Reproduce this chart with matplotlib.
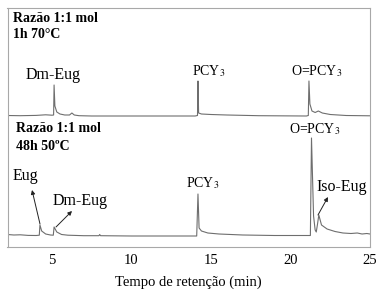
import matplotlib
matplotlib.use("Agg")
import matplotlib.pyplot as plt

plt.rcParams['font.family'] = ['Liberation Serif', 'DejaVu Serif']
plt.rcParams['mathtext.fontset'] = 'stix'

# Top trace: 1:1 mol, 1h 70°C (retention time, relative intensity)
t_top = [2.2, 3.0, 4.0, 4.6, 5.0, 5.10, 5.13, 5.18, 5.3, 5.5, 5.8, 6.1, 6.25, 6.4, 6.7, 7.5,
         10.0, 14.0, 14.15, 14.18, 14.22, 14.4, 15.0, 16.0, 18.0, 21.0, 21.12, 21.16, 21.22,
         21.35, 21.55, 21.75, 22.0, 22.5, 23.5, 25.0]
i_top = [0.5, 0.3, 0.6, 1.2, 0.8, 1.0, 31.0, 10.0, 4.0, 2.0, 1.0, 1.0, 3.0, 1.0, 0.3, 0.0,
         0.0, 0.0, 0.5, 35.0, 3.0, 2.0, 1.5, 1.0, 0.3, 0.0, 0.5, 35.0, 12.0,
         5.0, 3.5, 5.0, 3.0, 1.5, 0.5, 0.2]

# Bottom trace: 1:1 mol, 48h 50ºC
t_bot = [2.2, 2.6, 3.0, 3.5, 4.0, 4.20, 4.24, 4.35, 4.6, 4.9, 5.08, 5.13, 5.3, 5.6, 6.0, 7.0,
         7.95, 8.0, 8.05, 10.0, 14.1, 14.18, 14.25, 14.4, 14.8, 15.5, 17.0, 19.0, 21.25,
         21.32, 21.45, 21.55, 21.62, 21.70, 21.78, 21.95, 22.3, 22.8, 23.3, 23.8, 24.2,
         24.5, 24.8, 25.0]
i_bot = [1.5, 1.0, 1.2, 0.6, 0.5, 0.8, 11.0, 5.0, 2.0, 1.0, 0.8, 9.0, 4.0, 1.5, 0.8, 0.3,
         0.3, 1.5, 0.3, 0.0, 0.0, 42.0, 8.0, 5.0, 3.0, 2.0, 1.0, 0.5, 0.5,
         98.0, 20.0, 6.0, 4.0, 12.0, 21.0, 11.0, 7.0, 4.5, 3.0, 2.5, 3.0,
         2.0, 2.5, 2.0]

xticks = [5, 10, 15, 20, 25]

fig = plt.figure(figsize=(3.79, 2.91), dpi=100)
ax = fig.add_axes([7.5 / 379, (291 - 247) / 291, (370 - 7.5) / 379, (247 - 8) / 291])

off_top = 131  # baseline of upper trace
off_bot = 11   # baseline of lower trace
lc = '#6e6e6e'
ax.plot(t_top, [v + off_top for v in i_top], color=lc, lw=0.8)
ax.plot(t_bot, [v + off_bot for v in i_bot], color=lc, lw=0.8)

ax.set_xlim(2.2, 25.0)
ax.set_ylim(0, 239)
ax.set_yticks([])
ax.set_xticks(xticks)
ax.set_xticklabels([str(v) for v in xticks])
ax.tick_params(axis='x', length=0, labelsize=10.5, pad=5)
for s in ax.spines.values():
    s.set_color('#a8a8a8')
    s.set_linewidth(0.8)
ax.set_xlabel('Tempo de retenção (min)', fontsize=10.5, labelpad=6)


def px(x):
    return 2.2 + (x - 7.5) / 15.9


def py(y):
    return 247 - y


def label(x, y, s, **kw):
    ax.text(px(x), py(y), s, ha='left', va='center', **kw)


label(13, 18, 'Razão 1:1 mol', fontsize=10, fontweight='bold')
label(13, 34, '1h 70°C', fontsize=10, fontweight='bold')
label(26, 75, 'Dm-Eug', fontsize=11.5)
label(192, 71, r'PCY$_3$', fontsize=10)
label(291, 71, r'O=PCY$_3$', fontsize=10)

label(16, 128, 'Razão 1:1 mol', fontsize=10, fontweight='bold')
label(16, 146, '48h 50ºC', fontsize=10, fontweight='bold')
label(13, 176, 'Eug', fontsize=11.5)
label(53, 201, 'Dm-Eug', fontsize=11.5)
label(186, 183, r'PCY$_3$', fontsize=10)
label(289, 129, r'O=PCY$_3$', fontsize=10)
label(316, 187, 'Iso-Eug', fontsize=11.5)

arrow = dict(arrowstyle='-|>', color='#222222', lw=0.7, mutation_scale=6,
             shrinkA=0, shrinkB=0)
ax.annotate('', xy=(px(32), py(190)), xytext=(px(40), py(224)), arrowprops=arrow)
ax.annotate('', xy=(px(72), py(211)), xytext=(px(56), py(227)), arrowprops=arrow)
ax.annotate('', xy=(px(328), py(197)), xytext=(px(318), py(215)), arrowprops=arrow)

fig.savefig('out.png', dpi=100)
